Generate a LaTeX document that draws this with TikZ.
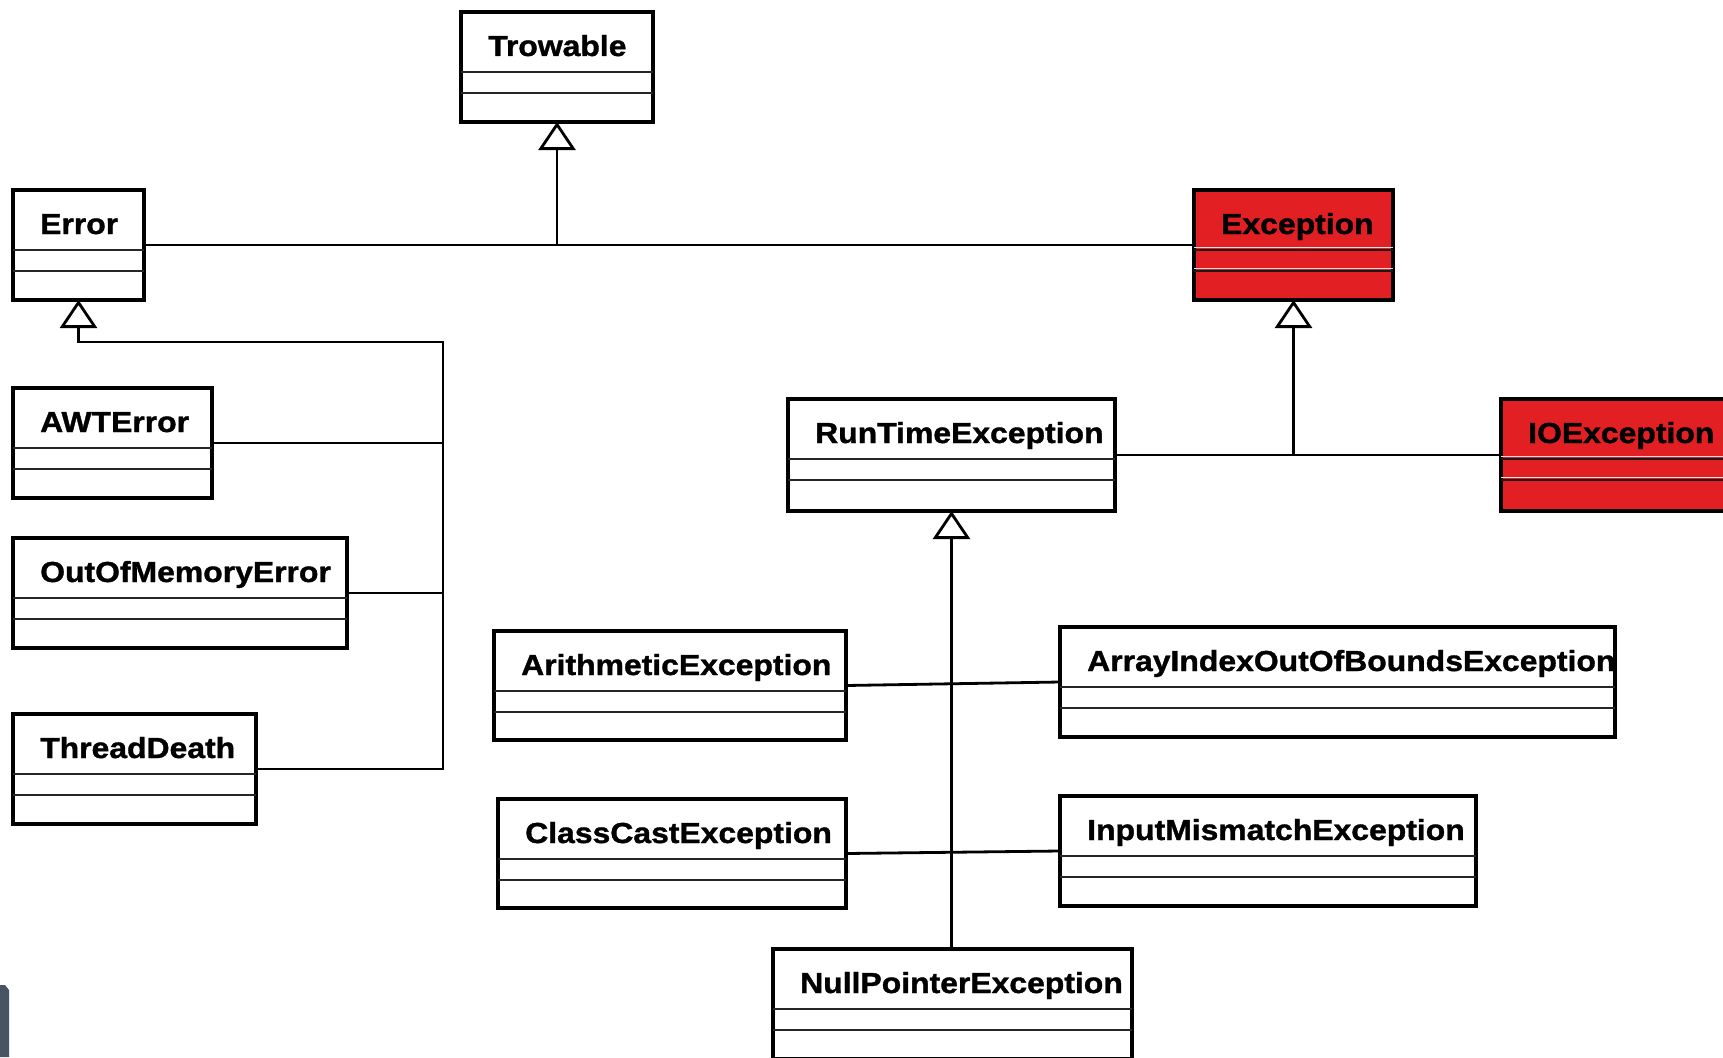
\documentclass[tikz,border=0pt]{standalone}
\usepackage{fontspec}
\setmainfont{Liberation Sans}[FakeStretch=1.1, BoldFeatures={FakeBold=1.2}]
\usetikzlibrary{arrows.meta}
\definecolor{umlred}{RGB}{226,32,36}
\definecolor{slategrey}{RGB}{72,84,100}
\tikzset{
  box-plain/.style={draw=black, line width=4.5pt, fill=white, outer sep=0pt, inner sep=0pt},
  box-red/.style={draw=black, line width=4.5pt, fill=umlred, outer sep=0pt, inner sep=0pt},
  div-plain/.style={draw=black!85, line width=2pt},
  div-red/.style={draw=black!90, line width=2pt},
  hl-plain/.style={draw=none},
  hl-red/.style={draw=white!85!umlred, line width=1.8pt},
  clstext/.style={inner sep=0pt, font=\fontsize{29}{34}\selectfont\bfseries, text=black},
  conn/.style={draw=black, line width=2.8pt},
  inh/.style={draw=black, line width=2.8pt, -{Triangle[open, length=28pt, width=37pt]}},
}
% #1 name, #2 x, #3 y, #4 width, #5 height, #6 plain/red, #7 text
\newcommand{\umlcls}[7]{%
  \node[box-#6, minimum width=#4pt, minimum height=#5pt, anchor=north west] (#1) at (#2,#3) {};
  \draw[hl-#6] ([yshift=-57.5pt]#1.north west) -- ([yshift=-57.5pt]#1.north east);
  \draw[hl-#6] ([yshift=-78.5pt]#1.north west) -- ([yshift=-78.5pt]#1.north east);
  \draw[div-#6] ([yshift=-60pt]#1.north west) -- ([yshift=-60pt]#1.north east);
  \draw[div-#6] ([yshift=-81pt]#1.north west) -- ([yshift=-81pt]#1.north east);
  \node[clstext, anchor=base west] (#1-t) at ([xshift=27pt, yshift=-44pt]#1.north west) {#7};
}
\begin{document}
\begin{tikzpicture}[x=1pt, y=-1pt]
  \fill[white] (0,0) rectangle (1723,1057);
  \clip (0,0) rectangle (1723,1057);

  \umlcls{tro}{461}{12}{192}{110}{plain}{Trowable}
  \umlcls{err}{13}{190}{131}{110}{plain}{Error}
  \umlcls{awt}{13}{388}{199}{110}{plain}{AWTError}
  \umlcls{oom}{13}{538}{334}{110}{plain}{OutOfMemoryError}
  \umlcls{td}{13}{714}{243}{110}{plain}{ThreadDeath}
  \umlcls{exc}{1194}{190}{199}{110}{red}{Exception}
  \umlcls{rte}{788}{399}{327}{112}{plain}{RunTimeException}
  \umlcls{ioe}{1501}{399}{240}{112}{red}{IOException}
  \umlcls{ari}{494}{631}{352}{109}{plain}{ArithmeticException}
  \umlcls{aio}{1060}{627}{555}{110}{plain}{ArrayIndexOutOfBoundsException}
  \umlcls{ccx}{498}{799}{348}{109}{plain}{ClassCastException}
  \umlcls{ime}{1060}{796}{416}{110}{plain}{InputMismatchException}
  \umlcls{npe}{773}{949}{359}{110}{plain}{NullPointerException}

  % junctions
  \coordinate (jT) at (tro.south |- err.east);
  \coordinate (jErr) at (443,342);
  \coordinate (jE) at (exc.south |- rte.east);
  \coordinate (jR) at (rte.south |- npe.north);

  % Throwable hierarchy
  \draw[conn] (err.east) -- (exc.west);
  \draw[inh] (jT) -- (tro.south);

  % Error hierarchy
  \draw[inh] (td.east) -| (jErr) -| (err.south);
  \draw[conn] (awt.east) -- (awt.east -| jErr);
  \draw[conn] (oom.east) -- (oom.east -| jErr);

  % Exception hierarchy
  \draw[conn] (rte.east) -- (ioe.west);
  \draw[inh] (jE) -- (exc.south);

  % RunTimeException hierarchy
  \draw[inh] (jR) -- (rte.south);
  \draw[conn] (ari.east) -- (aio.west);
  \draw[conn] (ccx.east) -- (ime.west);

  % grey edge fragment at bottom left
  \fill[slategrey] (0,985) -- (5,985) -- (9,990) -- (9,1057) -- (0,1057) -- cycle;
\end{tikzpicture}
\end{document}
